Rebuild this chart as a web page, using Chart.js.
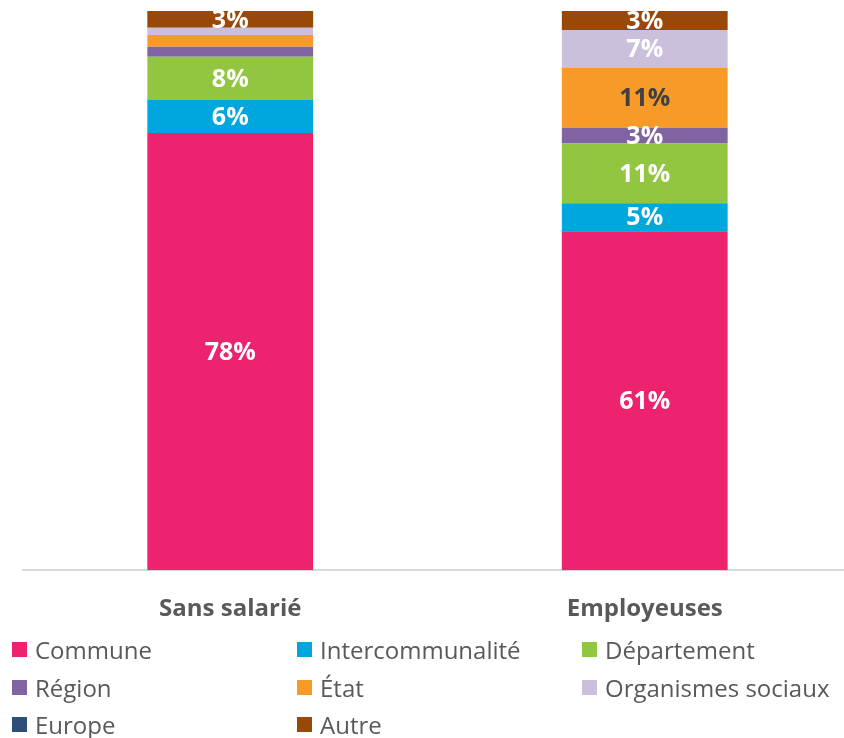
<!DOCTYPE html>
<html>
<head>
<meta charset="utf-8">
<script src="https://cdn.jsdelivr.net/npm/chart.js@4/dist/chart.umd.min.js"></script>
<style>
    body { margin: 0; background: #fff; overflow: hidden; font-family: "Open Sans", sans-serif; }
    #wrap { position: absolute; left: 0; top: 0; width: 852px; height: 653px; }
    #legend { position: absolute; left: 12px; top: 631px; display: grid; grid-template-columns: 285px 285px 285px; grid-auto-rows: 37.5px; }
    .item { display: flex; align-items: center; font-size: 24px; color: #595959; white-space: nowrap; }
    .box { width: 15px; height: 15px; margin-right: 8px; flex: none; }
</style>
</head>
<body>
<div id="wrap"><canvas id="chart"></canvas></div>
<div id="legend"></div>
<script>
// catégories et séries (parts en %)
const categories = ['Sans salarié', 'Employeuses'];
const seriesNames = ['Commune', 'Intercommunalité', 'Département', 'Région', 'État', 'Organismes sociaux', 'Europe', 'Autre'];
const commune = [78.2, 60.6];
const intercommunalite = [5.9, 5.0];
const departement = [7.7, 10.7];
const region = [1.8, 2.8];
const etat = [2.1, 10.7];
const organismesSociaux = [1.3, 6.8];
const europe = [0, 0];
const autre = [3.0, 3.4];

const seriesValues = [commune, intercommunalite, departement, region, etat, organismesSociaux, europe, autre];
const seriesColors = ['#ED2370', '#00A6DE', '#92C640', '#8064A2', '#F79A28', '#CBC0DC', '#2E4F7A', '#984807'];
const labelColors = ['#fff', '#fff', '#fff', '#fff', '#404040', '#fff', '#fff', '#fff'];

// étiquettes de données au centre des segments
const barLabels = {
    id: 'barLabels',
    afterDatasetsDraw(chart) {
        const ctx = chart.ctx;
        ctx.save();
        ctx.font = 'bold 25px "Open Sans", sans-serif';
        ctx.textAlign = 'center';
        ctx.textBaseline = 'middle';
        chart.data.datasets.forEach((ds, i) => {
            const meta = chart.getDatasetMeta(i);
            meta.data.forEach((bar, j) => {
                const v = ds.data[j];
                if (v < 2.5) return;
                const p = bar.getProps(['x', 'y', 'base'], true);
                ctx.fillStyle = labelColors[i];
                ctx.fillText(Math.round(v) + '%', p.x, (p.y + p.base) / 2 + 1);
            });
        });
        ctx.restore();
    }
};

new Chart(document.getElementById('chart'), {
    type: 'bar',
    data: {
        labels: categories,
        datasets: seriesNames.map((name, i) => ({
            label: name,
            data: seriesValues[i],
            backgroundColor: seriesColors[i],
            borderWidth: 0,
            barPercentage: 0.4,
            categoryPercentage: 1
        }))
    },
    options: {
        responsive: true,
        maintainAspectRatio: false,
        animation: false,
        layout: { padding: { top: 11, left: 23, right: 0, bottom: 4 } },
        plugins: {
            legend: { display: false },
            tooltip: { enabled: false }
        },
        scales: {
            x: {
                stacked: true,
                grid: { display: false, drawTicks: false, tickLength: 0 },
                border: { display: true, color: '#d9d9d9', width: 2 },
                ticks: { padding: 25, color: '#595959', font: { family: '"Open Sans", sans-serif', size: 24, weight: 'bold' } }
            },
            y: {
                stacked: true,
                display: false,
                min: 0,
                max: 100
            }
        }
    },
    plugins: [barLabels]
});

// légende en grille de trois colonnes
const legend = document.getElementById('legend');
seriesNames.forEach((name, i) => {
    const item = document.createElement('div');
    item.className = 'item';
    item.innerHTML = '<span class="box" style="background:' + seriesColors[i] + '"></span>' + name;
    legend.appendChild(item);
});
</script>
</body>
</html>
